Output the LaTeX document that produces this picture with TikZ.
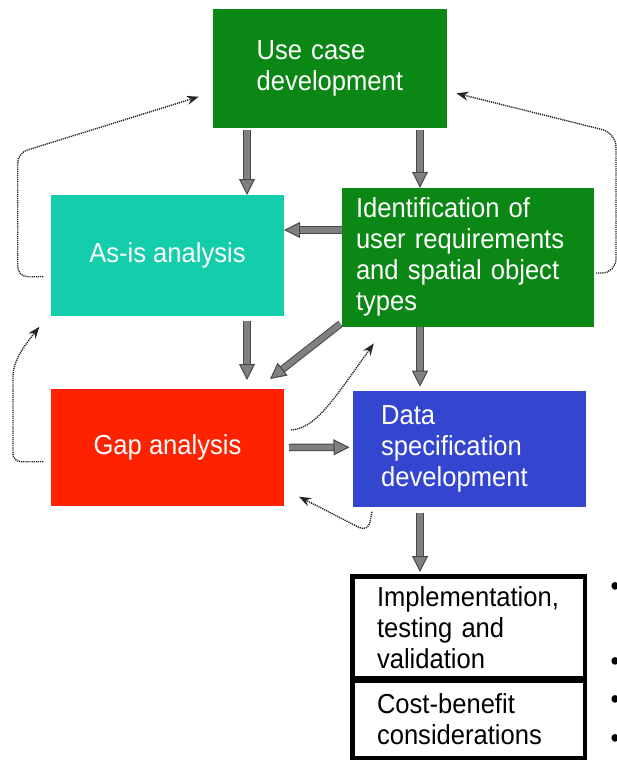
\documentclass[tikz,border=0pt]{standalone}
\usepackage{fontspec}
\setmainfont{Liberation Sans}
\newfontfamily\diagsf{Liberation Sans}[FakeStretch=0.93]
\usepackage{tikz}
\usetikzlibrary{arrows.meta}
\definecolor{ucgreen}{RGB}{10,135,20}
\definecolor{asteal}{RGB}{20,205,170}
\definecolor{gapred}{RGB}{255,34,0}
\definecolor{dsblue}{RGB}{52,70,208}
\definecolor{arrfill}{RGB}{128,128,128}
\definecolor{arrline}{RGB}{72,72,72}

\begin{document}
\begin{tikzpicture}[x=1pt,y=-1pt,
box/.style={rectangle, inner sep=0pt, outer sep=0pt, text=white, font=\diagsf\fontsize{27.5}{31}\selectfont},
lbox/.style={box, text width=#1, align=left},
cbox/.style={box, align=center},
tbox/.style={rectangle, draw=black, line width=4.5pt, inner sep=0pt, text=black, font=\diagsf\fontsize{27.5}{31}\selectfont, text width=183pt, align=left, minimum width=232.5pt},
dot/.style={inner sep=0pt, font=\diagsf\fontsize{27.5}{31}\selectfont},
blk/.style={draw=arrfill, line width=5.5pt, -{Triangle[length=16pt,width=16pt,line width=1pt,color=arrline,fill=arrfill]}, preaction={draw=arrline, line width=7.5pt, -, shorten >=14pt}},
fb/.style={draw=black!85, line width=1.4pt, dash pattern=on 1.2pt off 0.9pt, -{Stealth[length=12pt,width=9pt]}},
]
\useasboundingbox (0,0) rectangle (617,760);

% boxes
\node[lbox=146pt, fill=ucgreen, minimum width=234pt, minimum height=119pt] (usecase) at (329.6,68.5) {Use case\\development};
\node[cbox, fill=asteal, minimum width=233pt, minimum height=121pt] (asis) at (167.5,255.5) {As-is analysis};
\node[lbox=223pt, fill=ucgreen, minimum width=252pt, minimum height=139pt] (ident) at (467.5,257.3) {Identification of\\user requirements\\and spatial object\\types};
\node[cbox, fill=gapred, minimum width=233pt, minimum height=117pt] (gap) at (167.5,447.5) {Gap analysis};
\node[lbox=177pt, fill=dsblue, minimum width=233.4pt, minimum height=116.6pt] (dataspec) at (469.7,449) {Data\\specification\\development};
\node[tbox, minimum height=102pt] (impl) at (468.5,627.25) {Implementation,\\testing and\\validation};
\node[tbox, minimum height=77pt] (cost) at (468.5,719.25) {Cost-benefit\\considerations};

% cut off bullets at the right edge
\foreach \y/\n in {589/1,664/2,702/3,741/4}
  \node[dot] (b\n) at (615,\y) {\textbullet};

% main flow
\draw[blk] ([xshift=-82.6pt,yshift=-2pt]usecase.south) -- ([xshift=79.5pt]asis.north);
\draw[blk] ([xshift=90.4pt,yshift=-2pt]usecase.south) -- ([xshift=-47.5pt]ident.north);
\draw[blk] ([yshift=27.3pt]ident.west) -- ([yshift=25.5pt]asis.east);
\draw[blk] ([xshift=79.5pt,yshift=-5pt]asis.south) -- ([xshift=79.5pt,yshift=9pt]gap.north);
\draw[blk] ([xshift=-1pt,yshift=3pt]ident.south west) -- ([xshift=102.5pt,yshift=10pt]gap.north);
\draw[blk] ([xshift=-47.5pt]ident.south) -- ([xshift=-49.7pt,yshift=4pt]dataspec.north);
\draw[blk] ([xshift=5pt]gap.east) -- ([xshift=-3.5pt,yshift=1.7pt]dataspec.west);
\draw[blk] ([xshift=-49.7pt,yshift=-5.4pt]dataspec.south) -- ([xshift=-48.5pt,yshift=2pt]impl.north);

% feedback loops
\draw[fb, rounded corners=10pt] ([xshift=-7.7pt,yshift=-21.2pt]asis.west) -- (17.7,276.7) -- (17.7,153) -- ([xshift=-13.8pt,yshift=-28.2pt]usecase.west);
\draw[fb, rounded corners=14pt] ([xshift=2.5pt,yshift=-15.7pt]ident.east) -- (616,273) -- (616,133) -- ([xshift=9.8pt,yshift=-24.8pt]usecase.east);
\draw[fb, rounded corners=8pt] ([xshift=-7.7pt,yshift=-14.2pt]gap.west) -- (13,461.7) -- (13,385) .. controls (13,360) and (25,345) .. ([xshift=-11.6pt,yshift=-10.7pt]asis.south west);
\draw[fb] ([xshift=7pt,yshift=17.5pt]gap.east) .. controls (315,428) and (330,405) .. ([xshift=32.3pt,yshift=-16.6pt]ident.south west);
\draw[fb, rounded corners=10pt] ([xshift=19pt,yshift=-4.4pt]dataspec.south west) -- (368,532) -- ([xshift=15pt,yshift=9.3pt]gap.south east);
\end{tikzpicture}
\end{document}
